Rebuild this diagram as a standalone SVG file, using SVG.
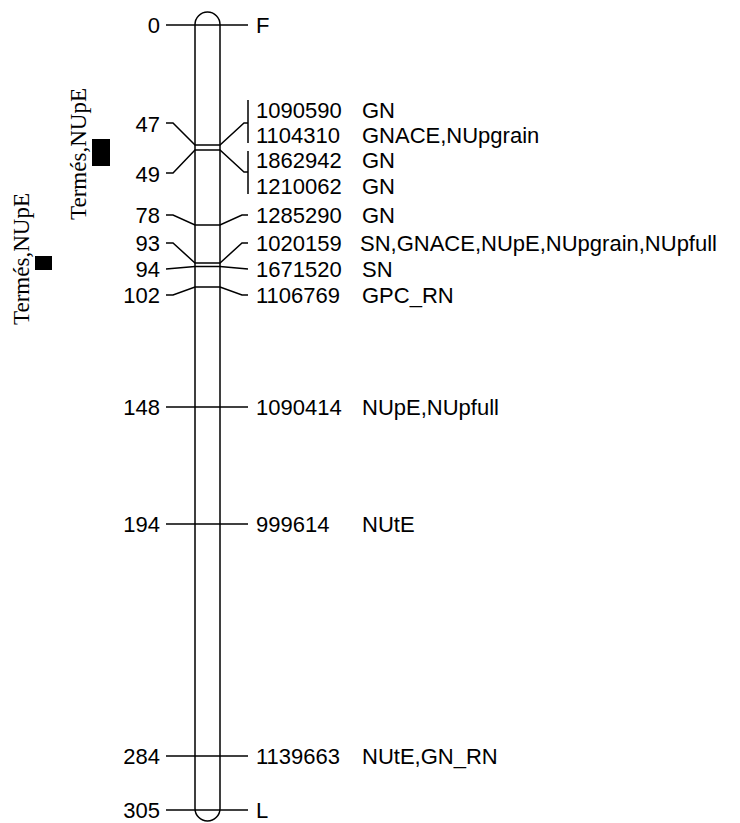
<svg xmlns="http://www.w3.org/2000/svg" width="740" height="823" viewBox="0 0 740 823">
<style>
.ln{fill:none;stroke:#000;stroke-width:1.5}
.t{font-family:"Liberation Sans",Arial,sans-serif;font-size:22px;fill:#000}
.l{text-anchor:end}
.q{font-family:"Liberation Serif","Times New Roman",serif;font-size:23px;fill:#000;text-anchor:middle}
</style>
<rect width="740" height="823" fill="#fff"/>
<g id="chromosome">
<rect class="ln" x="195" y="12" width="25" height="809" rx="12.5" ry="12.5"/>
</g>
<g id="connectors">
<path class="ln" d="M166,25H248"/>
<path class="ln" d="M166,123H173L195,145H220L244,123H248"/>
<path class="ln" d="M166,173H173L195,150H220L244,172H248"/>
<path class="ln" d="M248,100V143M248,151V194"/>
<path class="ln" d="M166,215H173L195,225H220L242,215H248"/>
<path class="ln" d="M166,243H173L195,263H220L242,243H248"/>
<path class="ln" d="M166,269L195,266.5H220L248,269"/>
<path class="ln" d="M166,295H173L195,287H220L242,295H248"/>
<path class="ln" d="M166,407H248"/>
<path class="ln" d="M166,524H248"/>
<path class="ln" d="M166,756H248"/>
<path class="ln" d="M166,810H248"/>
</g>
<g id="pos">
<text class="t l" x="160" y="33">0</text>
<text class="t l" x="160" y="132">47</text>
<text class="t l" x="160" y="182">49</text>
<text class="t l" x="160" y="223">78</text>
<text class="t l" x="160" y="251">93</text>
<text class="t l" x="160" y="277">94</text>
<text class="t l" x="160" y="303">102</text>
<text class="t l" x="160" y="415">148</text>
<text class="t l" x="160" y="532">194</text>
<text class="t l" x="160" y="764">284</text>
<text class="t l" x="160" y="818">305</text>
</g>
<g id="markers">
<text class="t" x="256" y="33">F</text>
<text class="t" x="256" y="118">1090590</text><text class="t" x="362" y="118">GN</text>
<text class="t" x="256" y="143">1104310</text><text class="t" x="362" y="143">GNACE,NUpgrain</text>
<text class="t" x="256" y="168">1862942</text><text class="t" x="362" y="168">GN</text>
<text class="t" x="256" y="194">1210062</text><text class="t" x="362" y="194">GN</text>
<text class="t" x="256" y="223">1285290</text><text class="t" x="362" y="223">GN</text>
<text class="t" x="256" y="251">1020159</text><text class="t" x="360" y="251">SN,GNACE,NUpE,NUpgrain,NUpfull</text>
<text class="t" x="256" y="277">1671520</text><text class="t" x="362" y="277">SN</text>
<text class="t" x="256" y="303">1106769</text><text class="t" x="362" y="303">GPC_RN</text>
<text class="t" x="256" y="415">1090414</text><text class="t" x="362" y="415">NUpE,NUpfull</text>
<text class="t" x="256" y="532">999614</text><text class="t" x="362" y="532">NUtE</text>
<text class="t" x="256" y="764">1139663</text><text class="t" x="362" y="764">NUtE,GN_RN</text>
<text class="t" x="256" y="818">L</text>
</g>
<g id="qtl1">
<rect x="92" y="139" width="18" height="27" fill="#000"/>
<text class="q" transform="translate(86,154) rotate(-90)">Termés,NUpE</text>
</g>
<g id="qtl2">
<rect x="35" y="256" width="17" height="14" fill="#000"/>
<text class="q" transform="translate(29,259) rotate(-90)">Termés,NUpE</text>
</g>
</svg>
